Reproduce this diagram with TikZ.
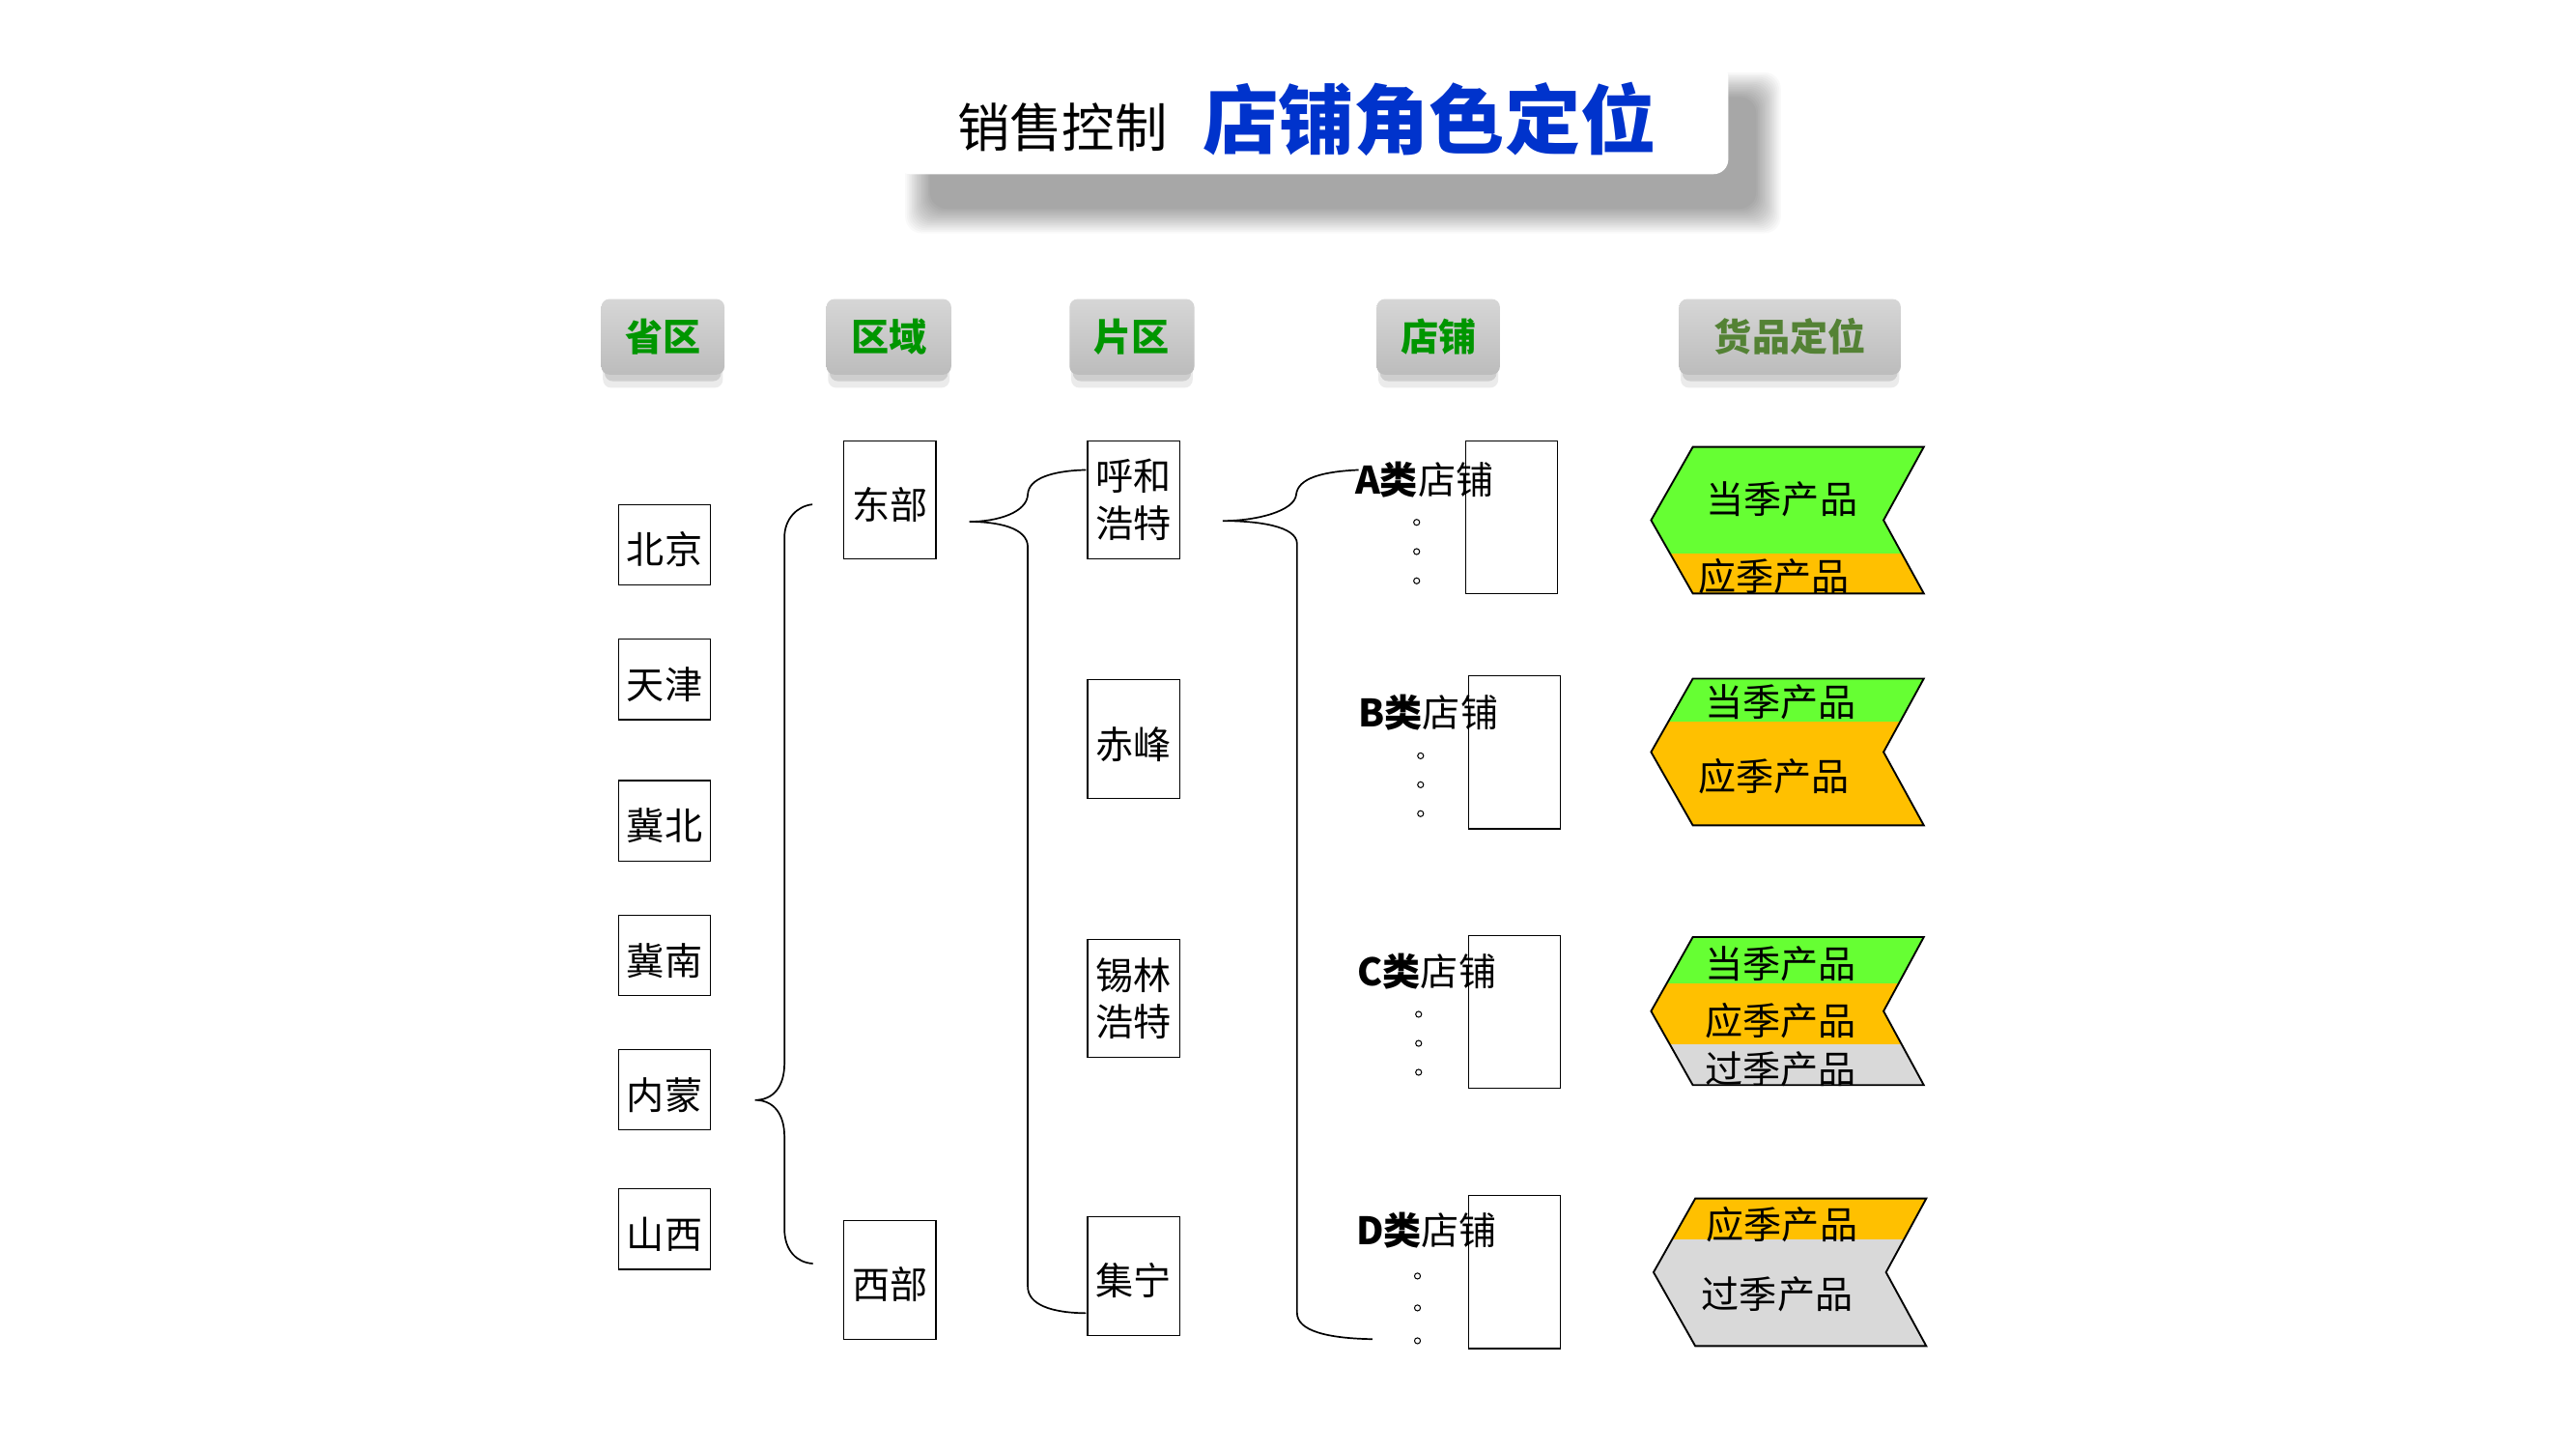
\documentclass[tikz,border=0pt]{standalone}
\usepackage{fontspec}
\setmainfont{Noto Sans CJK SC}
\definecolor{titleblue}{RGB}{0,51,204}
\definecolor{hdrgreen}{RGB}{0,150,0}
\definecolor{hdrolive}{RGB}{84,130,53}
\definecolor{cgreen}{RGB}{102,255,51}
\definecolor{corange}{RGB}{255,192,0}
\definecolor{cgray}{RGB}{217,217,217}
\definecolor{hdrtop}{RGB}{214,214,214}
\definecolor{hdrbot}{RGB}{188,188,188}
\newcommand\fs[2]{\fontsize{#1}{#2}\selectfont}
\newcommand\twoline[2]{\raisebox{-3pt}[\height][\depth]{\begin{tabular}{@{}c@{}}#1\\#2\end{tabular}}}
\begin{document}
\begin{tikzpicture}[x=1pt,y=-1pt,
  hdr/.style={rounded corners=5pt, top color=hdrtop, bottom color=hdrbot, minimum height=46pt, inner sep=0pt, font=\fs{23}{27}\bfseries, text=hdrgreen},
  cbox/.style={draw, line width=0.7pt, minimum width=56pt, minimum height=49pt, inner sep=0pt, font=\fs{23}{28.5}, text height=25pt, text depth=1.5pt},
  tbox/.style={cbox, minimum height=72pt},
  tboxtwo/.style={draw, line width=0.7pt, minimum width=56pt, minimum height=72pt, inner sep=0pt, font=\fs{23}{28.5}},
  sbox/.style={draw, line width=0.7pt, minimum width=56pt, minimum height=93pt, inner sep=0pt},
  slabel/.style={inner sep=0pt, font=\fs{23}{27}},
  brace/.style={line width=1pt},
  chev/.style={draw, line width=1.1pt, line join=miter},
  ctext/.style={inner sep=0pt, font=\fs{23}{27}},
  dot/.style={draw, line width=0.6pt}
]
\useasboundingbox (0,0) rectangle (1568,882);
\fill[white] (0,0) rectangle (1568,882);

% ---- title with soft shadow
\foreach \i in {0,...,15}{
  \fill[black, opacity=0.024, rounded corners=10pt] (551+\i,44+\i) rectangle (1084-\i,142-\i);
}
\fill[white, rounded corners=9pt] (545,38) rectangle (1052,106);
\node[inner sep=0pt, font=\fs{32}{36}] (t1) at (646.7,77.4) {销售控制};
\node[inner sep=0pt, font=\fs{46}{50}\bfseries, text=titleblue] (t2) at (870,72.5) {店铺角色定位};

% ---- header shadows
\foreach \cx/\w in {403.5/75, 541/76, 689/76, 875.5/75, 1089.5/135}{
  \fill[black, opacity=0.08, rounded corners=5pt] (\cx-\w/2+1,186) rectangle (\cx+\w/2-1,236);
  \fill[black, opacity=0.12, rounded corners=5pt] (\cx-\w/2+2,186) rectangle (\cx+\w/2-2,232);
}
% ---- headers
\node[hdr, minimum width=75pt] (h1) at (403.5,205) {省区};
\node[hdr, minimum width=76pt] (h2) at (541,205) {区域};
\node[hdr, minimum width=76pt] (h3) at (689,205) {片区};
\node[hdr, minimum width=75pt] (h4) at (875.5,205) {店铺};
\node[hdr, minimum width=135pt, text=hdrolive] (h5) at (1089.5,205) {货品定位};

% ---- provinces
\node[cbox] (p1) at (404.5,331.5) {北京};
\node[cbox] (p2) at (404.5,413.5) {天津};
\node[cbox] (p3) at (404.5,499.5) {冀北};
\node[cbox] (p4) at (404.5,581.5) {冀南};
\node[cbox] (p5) at (404.5,663.3) {内蒙};
\node[cbox] (p6) at (404.5,748) {山西};

% ---- regions
\node[tbox] (r1) at (541.7,304.2) {东部};
\node[tbox] (r2) at (541.7,779) {西部};

% ---- areas
\node[tboxtwo] (a1) at (690,304.2) {\twoline{呼和}{浩特}};
\node[tbox] (a2) at (690,449.8) {赤峰};
\node[tboxtwo] (a3) at (690,607.7) {\twoline{锡林}{浩特}};
\node[tbox] (a4) at (690,776.6) {集宁};

% ---- braces
\coordinate (b1top) at (494.5,307);
\coordinate (b1tip) at (459.5,669.5);
\coordinate (b1bot) at (494.8,769);
\draw[brace] (b1top) .. controls (485,308) and (477.5,316) .. (477.5,327) -- (477.5,647)
  .. controls (477.5,661) and (471,669.5) .. (b1tip)
  .. controls (471,669.5) and (477.5,678) .. (477.5,692) -- (477.5,748)
  .. controls (477.5,761) and (485,768.5) .. (b1bot);

\coordinate (b2top) at (661,286);
\coordinate (b2tip) at (590,317.5);
\coordinate (b2bot) at (661,799.2);
\draw[brace] (b2top) .. controls (641,286.5) and (626,291) .. (625.6,301)
  .. controls (625,312) and (607,317.5) .. (b2tip)
  .. controls (607,317.5) and (625.6,321) .. (625.6,333) -- (625.6,783)
  .. controls (625.6,794) and (640,799) .. (b2bot);

\coordinate (b3top) at (827,286);
\coordinate (b3tip) at (744.3,317);
\coordinate (b3bot) at (835.3,815);
\draw[brace] (b3top) .. controls (805,287) and (790,291) .. (789,301)
  .. controls (788,311) and (765,317) .. (b3tip)
  .. controls (765,317) and (789.5,320) .. (789.5,331) -- (789.5,799)
  .. controls (789.5,810) and (808,814.5) .. (b3bot);

% ---- stores
\node[sbox] (s1) at (920,314.8) {};
\node[sbox] (s2) at (922,457.9) {};
\node[sbox] (s3) at (921.8,615.8) {};
\node[sbox] (s4) at (921.8,774.2) {};
\node[slabel] (sl1) at (867,292) {\textbf{A类}店铺};
\node[slabel] (sl2) at (869.5,433.5) {\textbf{B类}店铺};
\node[slabel] (sl3) at (868.6,591.5) {\textbf{C类}店铺};
\node[slabel] (sl4) at (868.4,749) {\textbf{D类}店铺};
\foreach \x/\y in {862.3/317.9, 862.3/335.7, 862.3/353.5,
                   864.7/460, 864.7/477.6, 864.7/495.2,
                   863.5/617.3, 863.5/635, 863.5/652.6,
                   862.8/776.6, 862.8/796, 862.8/816}{
  \draw[dot] (\x,\y) circle[radius=1.8pt];
}

% ---- chevron A
\begin{scope}
  \clip (1030.4,272) -- (1171,272) -- (1146.5,316.6) -- (1171,361.2) -- (1030.4,361.2) -- (1005,316.6) -- cycle;
  \fill[cgreen] (990,260) rectangle (1190,336.7);
  \fill[corange] (990,336.7) rectangle (1190,370);
\end{scope}
\node[ctext] (ga1) at (1084.7,304) {当季产品};
\node[ctext] (ga2) at (1079.8,350.8) {应季产品};
\draw[chev] (1030.4,272) -- (1171,272) -- (1146.5,316.6) -- (1171,361.2) -- (1030.4,361.2) -- (1005,316.6) -- cycle;

% ---- chevron B
\begin{scope}
  \clip (1030.4,413) -- (1171,413) -- (1146.5,457.7) -- (1171,502.3) -- (1030.4,502.3) -- (1005,457.7) -- cycle;
  \fill[cgreen] (990,400) rectangle (1190,439);
  \fill[corange] (990,439) rectangle (1190,510);
\end{scope}
\node[ctext] (gb1) at (1083.7,427) {当季产品};
\node[ctext] (gb2) at (1079.8,472.3) {应季产品};
\draw[chev] (1030.4,413) -- (1171,413) -- (1146.5,457.7) -- (1171,502.3) -- (1030.4,502.3) -- (1005,457.7) -- cycle;

% ---- chevron C
\begin{scope}
  \clip (1030.4,570.3) -- (1171,570.3) -- (1146.5,615.4) -- (1171,660.4) -- (1030.4,660.4) -- (1005,615.4) -- cycle;
  \fill[cgreen] (990,560) rectangle (1190,598.7);
  \fill[corange] (990,598.7) rectangle (1190,635.4);
  \fill[cgray] (990,635.4) rectangle (1190,670);
\end{scope}
\node[ctext] (gc1) at (1083.7,586.4) {当季产品};
\node[ctext] (gc2) at (1083.7,621.2) {应季产品};
\node[ctext] (gc3) at (1083.7,650.6) {过季产品};
\draw[chev] (1030.4,570.3) -- (1171,570.3) -- (1146.5,615.4) -- (1171,660.4) -- (1030.4,660.4) -- (1005,615.4) -- cycle;

% ---- chevron D
\begin{scope}
  \clip (1031.9,729.4) -- (1172.5,729.4) -- (1148,774.3) -- (1172.5,819.2) -- (1031.9,819.2) -- (1006.5,774.3) -- cycle;
  \fill[corange] (990,720) rectangle (1190,754.5);
  \fill[cgray] (990,754.5) rectangle (1190,830);
\end{scope}
\node[ctext] (gd1) at (1084.7,745) {应季产品};
\node[ctext] (gd2) at (1081.8,787.8) {过季产品};
\draw[chev] (1031.9,729.4) -- (1172.5,729.4) -- (1148,774.3) -- (1172.5,819.2) -- (1031.9,819.2) -- (1006.5,774.3) -- cycle;
\end{tikzpicture}
\end{document}
